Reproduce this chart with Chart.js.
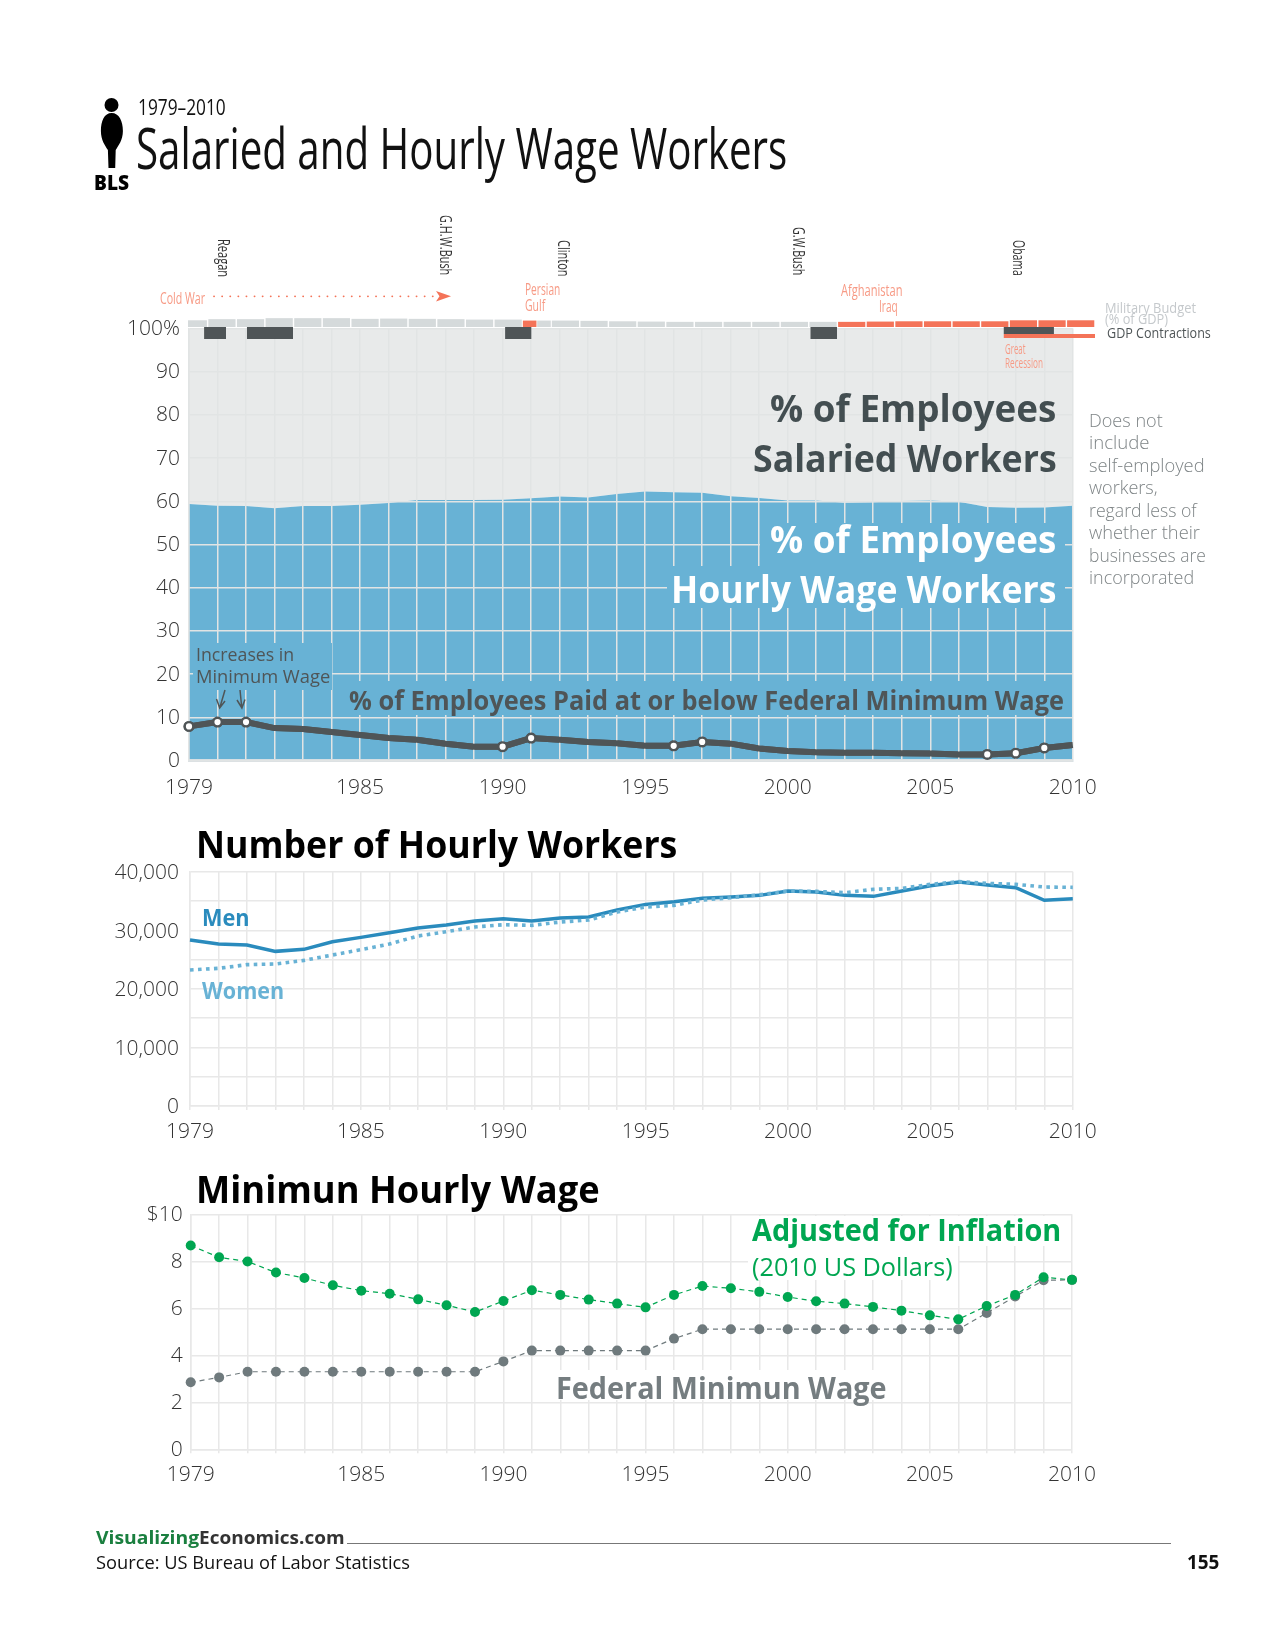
<!DOCTYPE html>
<html>
<head>
<meta charset="utf-8">
<title>Salaried and Hourly Wage Workers</title>
<script src="https://cdn.jsdelivr.net/npm/chart.js@4"></script>
<style>
  html, body { margin: 0; padding: 0; background: #fff; }
  #page { position: relative; width: 1275px; height: 1650px; overflow: hidden; font-family: "Open Sans", sans-serif; }
  #page canvas { position: absolute; display: block; }
  .txt { position: absolute; white-space: nowrap; line-height: 1; transform-origin: left top; }
  .mask { position: absolute; }
</style>
</head>
<body>
<div id="page"></div>
<script>
// years shared by the three panels
let years = ['1979','1980','1981','1982','1983','1984','1985','1986','1987','1988','1989','1990','1991','1992','1993','1994','1995','1996','1997','1998','1999','2000','2001','2002','2003','2004','2005','2006','2007','2008','2009','2010'];
let xTickLabels = ['1979','1985','1990','1995','2000','2005','2010'];

// panel 1, share of employees (%)
let hourlyShare = [59.4,59.0,58.9,58.4,58.9,58.9,59.2,59.6,60.3,60.3,60.3,60.4,60.7,61.1,60.9,61.7,62.3,62.1,62.0,61.2,60.8,60.2,60.2,59.7,59.8,60.1,60.2,59.9,58.7,58.5,58.6,59.0];
let salariedShare = [40.6,41.0,41.1,41.6,41.1,41.1,40.8,40.4,39.7,39.7,39.7,39.6,39.3,38.9,39.1,38.3,37.7,37.9,38.0,38.8,39.2,39.8,39.8,40.3,40.2,39.9,39.8,40.1,41.3,41.5,41.4,41.0];
let atOrBelowMin = [7.9,8.9,8.9,7.5,7.3,6.6,5.9,5.2,4.8,3.9,3.2,3.2,5.2,4.8,4.3,4.0,3.4,3.4,4.3,3.9,2.8,2.2,1.9,1.8,1.8,1.7,1.6,1.4,1.4,1.7,2.9,3.6];
let minWageRaised = ['1979','1980','1981','1990','1991','1996','1997','2007','2008','2009'];

// strip above panel 1, military budget (% of GDP), war years in orange
let budgetPeace = [4.7,5.5,5.5,6.2,6.2,6.2,5.7,5.9,5.7,5.5,5.2,5.2,4.5,4.5,4.3,4.0,3.8,3.6,3.6,3.6,3.6,3.6,3.6,null,null,null,null,null,null,null,null,null];
let budgetWar = [null,null,null,null,null,null,null,null,null,null,null,null,4.5,null,null,null,null,null,null,null,null,null,null,3.6,3.8,4.0,4.0,4.0,4.0,4.7,4.7,4.7];

// GDP contractions, in decimal years
let recessionStart = [1979.53,1981.03,1990.09,2000.8];
let recessionEnd = [1980.3,1982.65,1991.02,2001.74];
let greatRecessionStart = 2007.58;
let greatRecessionEnd = 2009.35;
let warLineEnd = 2010.79;

// panel 2, number of hourly workers (thousands)
let menWorkers = [28340,27650,27480,26400,26740,28050,28790,29590,30380,30900,31580,31980,31580,32090,32260,33460,34420,34880,35450,35680,35960,36700,36530,35960,35790,36700,37610,38240,37720,37270,35110,35390];
let womenWorkers = [23220,23500,24130,24240,24860,25780,26690,27650,29020,29760,30560,30950,30840,31410,31750,33120,33970,34250,35170,35560,36070,36700,36640,36420,36990,37160,37840,38300,38010,37840,37380,37330];

// panel 3, minimum hourly wage ($)
let wageAdjusted = [8.67,8.17,7.99,7.52,7.29,6.98,6.75,6.62,6.38,6.13,5.84,6.31,6.77,6.57,6.37,6.20,6.04,6.57,6.95,6.85,6.70,6.48,6.30,6.20,6.06,5.90,5.70,5.53,6.10,6.57,7.32,7.21];
let wageFederal = [2.85,3.06,3.30,3.30,3.30,3.30,3.30,3.30,3.30,3.30,3.30,3.74,4.20,4.20,4.20,4.20,4.20,4.71,5.11,5.11,5.11,5.11,5.11,5.11,5.11,5.11,5.11,5.11,5.80,6.50,7.19,7.21];

let blue = '#68b2d5';
let darkLine = '#4f5557';
let orange = '#f47358';
let lightOrange = '#f79a85';
let tickFont = { family: '"Open Sans", sans-serif', size: 21, weight: '300' };
let page = document.getElementById('page');

Chart.defaults.animation = false;
Chart.defaults.responsive = false;
Chart.defaults.devicePixelRatio = 1;
Chart.defaults.plugins.legend.display = false;
Chart.defaults.plugins.tooltip.enabled = false;

function addCanvas(left, top, width, height) {
  let canvas = document.createElement('canvas');
  canvas.width = width;
  canvas.height = height;
  canvas.style.left = left + 'px';
  canvas.style.top = top + 'px';
  page.appendChild(canvas);
  return canvas;
};

// canvas sized so the plot area lands on the given rectangle
function panelChart(plot, config) {
  let left = 100;
  let top = Math.floor(plot.top - 30);
  let width = 1100;
  let axisHeight = 48;
  let height = Math.ceil(plot.bottom + axisHeight - top);
  let canvas = addCanvas(left, top, width, height);

  config.options.layout = {
    padding: {
      left: 0,
      top: plot.top - top,
      right: left + width - plot.right,
      bottom: top + height - plot.bottom - axisHeight
    }
  };
  config.options.scales.x.afterFit = function (scale) { scale.height = axisHeight; };
  config.options.scales.y.afterFit = function (scale) { scale.width = plot.left - left; };
  return new Chart(canvas, config);
};

function yearAxis(gridColor, tickPadding, tickLength) {
  return {
    grid: { color: gridColor, lineWidth: 1.5, tickLength: tickLength, drawTicks: tickLength > 0 },
    border: { color: gridColor, width: 1.5 },
    ticks: {
      color: '#333',
      font: tickFont,
      padding: tickPadding,
      autoSkip: false,
      maxRotation: 0,
      minRotation: 0,
      callback: function (value) {
        let label = this.getLabelForValue(value);
        return xTickLabels.includes(label) ? label : '';
      }
    }
  };
};

function valueAxis(gridColor, min, max, step, tickPadding, labelOffset, format) {
  return {
    min: min,
    max: max,
    grid: { color: gridColor, lineWidth: 1.5, drawTicks: false },
    border: { color: gridColor, width: 1.5 },
    ticks: { stepSize: step, color: '#333', font: tickFont, padding: tickPadding, labelOffset: labelOffset, callback: format }
  };
};

// panel 1: grid sits over the areas, the dark line goes back on top of the grid
let lineOverGrid = {
  id: 'lineOverGrid',
  afterDraw(chart) {
    chart.getDatasetMeta(0).controller.draw();
  }
};

let shareX = yearAxis('#e1e4e4', 15, 0);
shareX.grid.z = 1;
shareX.border = { color: '#d6dfe3', width: 3, z: 1 };
shareX.stacked = true;
let shareY = valueAxis('#e1e4e4', 0, 100, 10, 9, 0.5, function (v) { return v === 100 ? '100%' : v; });
shareY.grid.z = 1;
shareY.border.z = 1;
shareY.stacked = true;

panelChart({ left: 189, right: 1072.8, top: 328.6, bottom: 760.5 }, {
  type: 'line',
  data: {
    labels: years,
    datasets: [
      {
        data: atOrBelowMin,
        stack: 'line',
        borderColor: darkLine,
        borderWidth: 6,
        clip: false,
        pointRadius: years.map(function (y) { return minWageRaised.includes(y) ? 4.3 : 0; }),
        pointBackgroundColor: '#fff',
        pointBorderColor: darkLine,
        pointBorderWidth: 2.4,
        fill: false
      },
      { data: hourlyShare, stack: 'area', borderWidth: 0, pointRadius: 0, backgroundColor: blue, fill: 'origin' },
      { data: salariedShare, stack: 'area', borderWidth: 0, pointRadius: 0, backgroundColor: '#e8eaea', fill: '-1' }
    ]
  },
  options: { scales: { x: shareX, y: shareY } },
  plugins: [lineOverGrid]
});

// military budget strip
new Chart(addCanvas(179, 317, 916, 10), {
  type: 'bar',
  data: {
    labels: years,
    datasets: [
      { data: budgetWar, backgroundColor: orange, skipNull: true, clip: { left: -9, top: 0, right: 0, bottom: 0 } },
      { data: budgetPeace, backgroundColor: '#d5dadb', skipNull: true, clip: { left: -9, top: 0, right: 0, bottom: 0 } }
    ]
  },
  options: {
    datasets: { bar: { barPercentage: 0.95, categoryPercentage: 1 } },
    layout: { padding: 0 },
    scales: {
      x: { display: false },
      y: { display: false, min: 0, max: 7 }
    }
  }
});

// GDP contractions strip, y runs over the height of the strip
function fillBand(start, end, top, bottom, color) {
  return {
    data: [{ x: start, y: top }, { x: end, y: top }],
    fill: { value: bottom },
    backgroundColor: color,
    borderWidth: 0,
    pointRadius: 0
  };
};

let recessionSets = recessionStart.map(function (start, i) {
  return fillBand(start, recessionEnd[i], 12, 0, darkLine);
});
recessionSets.push(fillBand(greatRecessionStart, greatRecessionEnd, 12, 5, darkLine));
recessionSets.push(fillBand(greatRecessionStart, warLineEnd, 5, 1, orange));

new Chart(addCanvas(189, 327, 906, 12), {
  type: 'line',
  data: { datasets: recessionSets },
  options: {
    layout: { padding: 0 },
    scales: {
      x: { type: 'linear', display: false, min: 1979, max: warLineEnd },
      y: { display: false, min: 0, max: 12 }
    }
  }
});

// panel 2
panelChart({ left: 190, right: 1072.8, top: 871.7, bottom: 1106 }, {
  type: 'line',
  data: {
    labels: years,
    datasets: [
      { data: womenWorkers, borderColor: blue, borderWidth: 3.6, borderDash: [3.6, 4.4], pointRadius: 0, fill: false },
      { data: menWorkers, borderColor: '#2a8bbd', borderWidth: 3.5, pointRadius: 0, fill: false }
    ]
  },
  options: {
    scales: {
      x: yearAxis('#e8e8e8', 9, 4),
      y: valueAxis('#e8e8e8', 0, 40000, 5000, 11, 1.5, function (v) {
        return v % 10000 === 0 ? v.toLocaleString('en-US') : '';
      })
    }
  }
});

// panel 3
panelChart({ left: 190.7, right: 1072, top: 1214.3, bottom: 1449.3 }, {
  type: 'line',
  data: {
    labels: years,
    datasets: [
      { data: wageAdjusted, borderColor: '#00a651', borderWidth: 1.2, borderDash: [5, 4], pointRadius: 5, pointBackgroundColor: '#00a651', pointBorderWidth: 0, clip: false, fill: false },
      { data: wageFederal, borderColor: '#6f7a7d', borderWidth: 1.2, borderDash: [5, 4], pointRadius: 5, pointBackgroundColor: '#6f7a7d', pointBorderWidth: 0, clip: false, fill: false }
    ]
  },
  options: {
    scales: {
      x: yearAxis('#e8e8e8', 9, 4),
      y: valueAxis('#e8e8e8', 0, 10, 2, 8, 1, function (v) { return v === 10 ? '$10' : v; })
    }
  }
});

// text blocks hide the grid behind them
function mask(left, top, right, bottom, color) {
  let box = document.createElement('div');
  box.className = 'mask';
  box.style.left = left + 'px';
  box.style.top = top + 'px';
  box.style.width = (right - left) + 'px';
  box.style.height = (bottom - top) + 'px';
  box.style.background = color;
  page.appendChild(box);
};

// y is the baseline, the text gets squeezed to run from left to right
function label(text, left, right, y, size, weight, color) {
  let el = document.createElement('div');
  el.className = 'txt';
  el.textContent = text;
  el.style.fontSize = size + 'px';
  el.style.fontWeight = weight;
  el.style.color = color;
  el.style.left = left + 'px';
  el.style.top = (y + 1 - size * 0.888) + 'px';
  page.appendChild(el);
  el.style.transform = 'scaleX(' + (right - left) / el.offsetWidth + ')';
  return el;
};

// rotated names, reading downwards from top to bottom around x
function sideLabel(text, x, top, bottom, size, color) {
  let el = document.createElement('div');
  el.className = 'txt';
  el.textContent = text;
  el.style.fontSize = size + 'px';
  el.style.color = color;
  page.appendChild(el);
  let k = (bottom - top) / el.offsetWidth;
  el.style.left = x + 'px';
  el.style.top = top + 'px';
  el.style.transformOrigin = 'left top';
  el.style.transform = 'rotate(90deg) translateY(' + (-size / 2) + 'px) scaleX(' + k + ')';
};

function addSvg(markup) {
  let holder = document.createElement('div');
  holder.innerHTML = '<svg xmlns="http://www.w3.org/2000/svg" width="1275" height="1650" style="position:absolute;left:0;top:0">' + markup + '</svg>';
  page.appendChild(holder);
};

mask(760, 523, 1065, 566, blue);
mask(667, 566, 1065, 608, blue);
mask(193, 643, 332, 690, blue);
mask(337, 681, 1066, 715, blue);
mask(748, 1216, 1065, 1246, '#fff');
mask(748, 1246, 958, 1280, '#fff');
mask(552, 1370, 892, 1400, '#fff');

addSvg(
  // person icon
  '<circle cx="111.5" cy="105" r="7" fill="#000"/>' +
  '<path d="M111.7 113 C119 113 122.9 121 122.9 131 C122.9 140 118.2 146 115.7 150 L115.2 168 L108.5 168 L107.9 150 C105.2 146 100.9 140 100.9 131 C100.9 121 104.2 113 111.7 113 Z" fill="#000"/>' +
  // cold war arrow
  '<line x1="214" y1="296.3" x2="434" y2="296.3" stroke="' + orange + '" stroke-width="1.8" stroke-linecap="round" stroke-dasharray="0.1 8"/>' +
  '<path d="M436 291 L451 296.3 L436 301.5 L439.5 296.3 Z" fill="' + orange + '"/>' +
  // minimum wage arrows
  '<path d="M225 690 L220 707 M216.5 699 L219.7 708 L225 701" stroke="' + darkLine + '" stroke-width="1.5" fill="none"/>' +
  '<path d="M240 690 L241.7 707 M237 700 L241.9 708 L245 699.5" stroke="' + darkLine + '" stroke-width="1.5" fill="none"/>' +
  // footer rule
  '<line x1="347" y1="1543.5" x2="1171" y2="1543.5" stroke="#777" stroke-width="1"/>'
);

label('1979–2010', 138, 226, 114, 22, 400, '#111');
label('Salaried and Hourly Wage Workers', 135.5, 787, 168.3, 57, 500, '#111');
label('BLS', 93.5, 129, 189.3, 21, 800, '#000');

sideLabel('Reagan', 224, 239, 277, 16, '#333');
sideLabel('G.H.W.Bush', 446, 215, 275, 16, '#333');
sideLabel('Clinton', 563.5, 240, 276.5, 16, '#333');
sideLabel('G.W.Bush', 799, 227, 275, 16, '#333');
sideLabel('Obama', 1018.5, 240, 276, 16, '#333');

label('Cold War', 160, 205, 302.7, 17, 400, lightOrange);
label('Persian', 524.7, 560, 294, 17, 400, lightOrange);
label('Gulf', 524.7, 545, 310, 17, 400, lightOrange);
label('Afghanistan', 840.7, 902, 294.7, 17, 400, lightOrange);
label('Iraq', 879, 898, 310.7, 17, 400, lightOrange);
label('Great', 1005, 1025.7, 353, 14, 400, lightOrange);
label('Recession', 1005, 1043, 367, 14, 400, lightOrange);

label('Military Budget', 1105, 1196, 312, 14, 400, '#c5c9cc');
label('(% of GDP)', 1105, 1168, 323, 14, 400, '#c5c9cc');
label('GDP Contractions', 1106.8, 1211, 337.7, 14, 400, darkLine);

label('% of Employees', 770, 1056, 421, 38, 700, '#434e51');
label('Salaried Workers', 752.7, 1056, 470.7, 38, 700, '#434e51');
label('% of Employees', 770, 1056, 552, 38, 700, '#fff');
label('Hourly Wage Workers', 670.7, 1056, 601.7, 38, 700, '#fff');

label('Does not', 1089.3, 1163.5, 426.7, 19, 300, '#7e8486');
label('include', 1089.3, 1150, 449.2, 19, 300, '#7e8486');
label('self-employed', 1089.3, 1205, 471.7, 19, 300, '#7e8486');
label('workers,', 1089.3, 1157.7, 494.2, 19, 300, '#7e8486');
label('regard less of', 1089.3, 1197.3, 516.7, 19, 300, '#7e8486');
label('whether their', 1089.3, 1199.8, 539.2, 19, 300, '#7e8486');
label('businesses are', 1089.3, 1206, 561.7, 19, 300, '#7e8486');
label('incorporated', 1089.3, 1194.3, 584.2, 19, 300, '#7e8486');

label('Increases in', 196, 294, 660.7, 19, 400, darkLine);
label('Minimum Wage', 196, 330, 682.7, 19, 400, darkLine);
label('% of Employees Paid at or below Federal Minimum Wage', 349.3, 1064, 710, 26.5, 700, darkLine);

label('Number of Hourly Workers', 195.7, 677.5, 857, 38, 700, '#000');
label('Men', 201.7, 249, 926, 22.5, 700, '#2a8bbd');
label('Women', 201.7, 284, 999, 22.5, 700, blue);

label('Minimun Hourly Wage', 195.7, 599.6, 1202, 38, 700, '#000');
label('Adjusted for Inflation', 751.7, 1060.7, 1240.7, 31, 700, '#00a651');
label('(2010 US Dollars)', 751.7, 952.7, 1275, 26, 400, '#00a651');
label('Federal Minimun Wage', 556, 886.7, 1399, 31, 700, '#757d80');

label('Visualizing', 96.4, 199.4, 1543, 18, 700, '#1a7f3f');
label('Economics.com', 199.4, 345, 1543, 18, 700, '#333');
label('Source: US Bureau of Labor Statistics', 96.4, 410.6, 1569, 19, 400, '#111');
label('155', 1186.7, 1219.5, 1569, 19, 700, '#111');
</script>
</body>
</html>
